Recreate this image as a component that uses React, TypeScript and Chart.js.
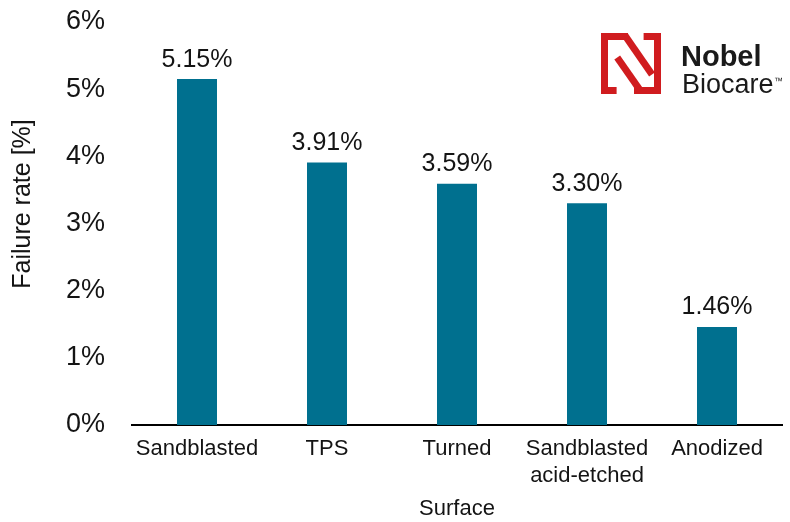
import React, { useEffect, useRef } from "react";
import { Chart, registerables } from "chart.js";

Chart.register(...registerables);

const categories: (string | string[])[] = [
  "Sandblasted",
  "TPS",
  "Turned",
  ["Sandblasted", "acid-etched"],
  "Anodized",
];
const failureRates: number[] = [5.15, 3.91, 3.59, 3.3, 1.46];
const yTicks: number[] = [0, 1, 2, 3, 4, 5, 6];
const yAxisTitle = "Failure rate [%]";
const xAxisTitle = "Surface";
const logoTop = "Nobel";
const logoBottom = "Biocare";

const FONT = "'Liberation Sans', Arial, Helvetica, sans-serif";
const BAR_COLOR = "#00708f";
const TEXT = "#141414";

const valueLabels = {
  id: "valueLabels",
  afterDatasetsDraw(chart: any) {
    const ctx = chart.ctx;
    const meta = chart.getDatasetMeta(0);
    ctx.save();
    ctx.font = `25px ${FONT}`;
    ctx.fillStyle = TEXT;
    ctx.textAlign = "center";
    ctx.textBaseline = "alphabetic";
    meta.data.forEach((bar: any, i: number) => {
      ctx.fillText(failureRates[i].toFixed(2) + "%", bar.x, bar.y - 12.5);
    });
    ctx.restore();
  },
};

const decorations = {
  id: "decorations",
  afterDraw(chart: any) {
    const ctx = chart.ctx;
    ctx.save();
    // y axis title
    ctx.translate(23, 204);
    ctx.rotate(-Math.PI / 2);
    ctx.font = `25px ${FONT}`;
    ctx.fillStyle = TEXT;
    ctx.textAlign = "center";
    ctx.textBaseline = "middle";
    ctx.fillText(yAxisTitle, 0, 0);
    ctx.restore();

    // logo
    const x0 = 601;
    const y0 = 33;
    const w = 60;
    const h = 61;
    const t = 7;
    ctx.save();
    ctx.fillStyle = "#d01c1f";
    ctx.strokeStyle = "#d01c1f";
    ctx.fillRect(x0, y0, t, h);
    ctx.fillRect(x0, y0, 0.45 * w, t);
    ctx.fillRect(x0, y0 + h - t, 0.26 * w, t);
    ctx.fillRect(x0 + w - t, y0, t, h);
    ctx.fillRect(x0 + 0.71 * w, y0, 0.29 * w, t);
    ctx.fillRect(x0 + 0.55 * w, y0 + h - t, 0.45 * w, t);
    ctx.lineWidth = t;
    ctx.lineCap = "butt";
    ctx.beginPath();
    ctx.moveTo(x0 + 0.40 * w, y0 + 0.04 * h);
    ctx.lineTo(x0 + 0.85 * w, y0 + 0.68 * h);
    ctx.stroke();
    ctx.beginPath();
    ctx.moveTo(x0 + 0.27 * w, y0 + 0.40 * h);
    ctx.lineTo(x0 + 0.66 * w, y0 + 0.95 * h);
    ctx.stroke();
    ctx.fillStyle = "#1a1a1a";
    ctx.textAlign = "left";
    ctx.textBaseline = "alphabetic";
    ctx.font = `bold 29px ${FONT}`;
    ctx.fillText(logoTop, 681, 66);
    ctx.font = `27px ${FONT}`;
    ctx.fillText(logoBottom, 682, 93);
    ctx.font = `9px ${FONT}`;
    ctx.fillText("\u2122", 774, 84);
    ctx.restore();
  },
};

export default function App() {
  const canvasRef = useRef<HTMLCanvasElement | null>(null);

  useEffect(() => {
    if (!canvasRef.current) return;
    const chart = new Chart(canvasRef.current, {
      type: "bar",
      data: {
        labels: categories,
        datasets: [
          {
            data: failureRates,
            backgroundColor: BAR_COLOR,
            borderWidth: 0,
            categoryPercentage: 1,
            barPercentage: 40 / 130,
          },
        ],
      },
      options: {
        responsive: false,
        animation: false,
        events: [],
        layout: { padding: { top: 22, right: 8, left: 0, bottom: 0 } },
        plugins: {
          legend: { display: false },
          tooltip: { enabled: false },
          title: { display: false },
        },
        scales: {
          x: {
            grid: { display: false, drawTicks: false },
            border: { display: true, color: "#000000", width: 2 },
            ticks: {
              color: TEXT,
              font: { family: FONT, size: 22, lineHeight: 1.2 },
              padding: 11,
              maxRotation: 0,
              autoSkip: false,
            },
            title: {
              display: true,
              text: xAxisTitle,
              color: TEXT,
              font: { family: FONT, size: 22, lineHeight: 1.2 },
              padding: { top: 0, bottom: 0 },
            },
            afterFit(scale: any) {
              scale.height = 97;
              scale.paddingLeft = 0;
              scale.paddingRight = 0;
            },
          },
          y: {
            min: 0,
            max: 6,
            grid: { display: false, drawTicks: false },
            border: { display: false },
            afterBuildTicks(scale: any) {
              scale.ticks = yTicks.map((v) => ({ value: v }));
            },
            ticks: {
              color: TEXT,
              font: { family: FONT, size: 27 },
              padding: 27,
              callback: (v: any) => `${v}%`,
            },
            afterFit(scale: any) {
              scale.width = 132;
              scale.paddingTop = 0;
              scale.paddingBottom = 0;
            },
          },
        },
      },
      plugins: [valueLabels, decorations],
    });
    return () => chart.destroy();
  }, []);

  return (
    <div style={{ position: "fixed", left: 0, top: 0, width: 790, height: 522, background: "#ffffff" }}>
      <canvas ref={canvasRef} width={790} height={522} style={{ display: "block" }} />
    </div>
  );
}
